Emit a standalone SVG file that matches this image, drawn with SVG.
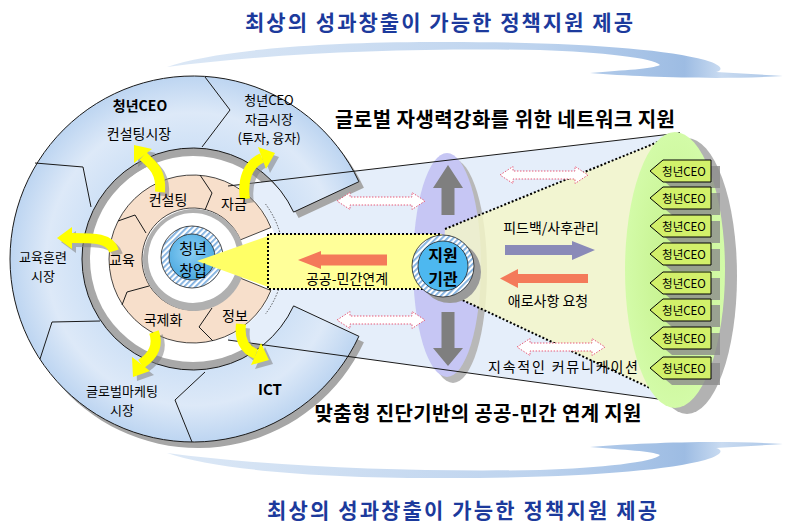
<svg xmlns="http://www.w3.org/2000/svg" width="785" height="528" viewBox="0 0 785 528">
<defs>
<style>
text{font-family:'Noto Sans CJK KR','Noto Sans',sans-serif;fill:#000}
.title{font-size:21px;font-weight:bold;fill:#1c3a9c}
.head{font-size:20px;font-weight:bold}
.l13{font-size:13px}
.l14{font-size:14px}
.b14{font-size:14px;font-weight:bold}
.mid{text-anchor:middle}
.line{fill:none;stroke:#1a1a1a;stroke-width:1}
.dot{fill:none;stroke:#000;stroke-width:2;stroke-dasharray:2 2}
.pink{fill:#fff;stroke:#e65a78;stroke-width:1;stroke-dasharray:1.5 1.5}
.ysh{fill:#808080;stroke:#808080;opacity:.55}
.yl{fill:#ffff00;stroke:#ffff00}
.ceo{fill:#d2f06a;stroke:#000;stroke-width:1}
.ceosh{fill:#8c8c8c;opacity:.8}
.ceot{font-size:11.5px;text-anchor:middle}
.sw{fill:url(#swg)}
</style>
<linearGradient id="swg" gradientUnits="userSpaceOnUse" x1="167" y1="0" x2="783" y2="0">
<stop offset="0" stop-color="#dce8f6"/>
<stop offset="0.6" stop-color="#bdd3ee"/>
<stop offset="0.84" stop-color="#9dbce3"/>
<stop offset="0.9" stop-color="#c9dbf1"/>
<stop offset="1" stop-color="#a8c4e6"/>
</linearGradient>
<radialGradient id="ringg" gradientUnits="userSpaceOnUse" cx="193" cy="259" r="183">
<stop offset="0.6" stop-color="#cfe1f6"/>
<stop offset="0.8" stop-color="#dde9f8"/>
<stop offset="1" stop-color="#bdd5f1"/>
</radialGradient>
<radialGradient id="coreg" cx="0.45" cy="0.4" r="0.6">
<stop offset="0" stop-color="#8ed0f5"/>
<stop offset="1" stop-color="#4aa8e0"/>
</radialGradient>
<radialGradient id="greeng" cx="0.5" cy="0.5" r="0.5">
<stop offset="0" stop-color="#c4f08a"/>
<stop offset="1" stop-color="#d3fba8"/>
</radialGradient>
<pattern id="hatch" width="4" height="4" patternUnits="userSpaceOnUse" patternTransform="rotate(45)">
<rect width="4" height="4" fill="#fff"/>
<rect width="1.8" height="4" fill="#7fb0e0"/>
</pattern>
<path id="dbl" d="M-44,0 L-31,-8.5 L-31,-4 L31,-4 L31,-8.5 L44,0 L31,8.5 L31,4 L-31,4 L-31,8.5 Z"/>
<g id="ya1"><path d="M160,192 C162,172 152,164 143,156" fill="none" stroke-width="10"/><polygon points="134,145 152,149 134,163" stroke="none"/></g>
<g id="ya2"><path d="M245,199 C242,180 248,164 262,158" fill="none" stroke-width="10"/><polygon points="275,153 266,169 258,147" stroke="none"/></g>
<g id="ya3"><path d="M114,251 C110,238 95,238 72,238" fill="none" stroke-width="10"/><polygon points="57,238 72,227 72,249" stroke="none"/></g>
<g id="ya4"><path d="M154,332 C159,346 153,356 141,364" fill="none" stroke-width="10"/><polygon points="133,377 150,371 132,357" stroke="none"/></g>
<g id="ya5"><path d="M241,324 C239,340 245,350 256,354" fill="none" stroke-width="10"/><polygon points="269,360 251,365 261,343" stroke="none"/></g>
</defs>

<rect width="785" height="528" fill="#fff"/>

<g id="swoosh-top"><path class="sw" d="M167,67 C210,52 300,43 420,42 C560,41 660,48 705,60 C722,65 724,70 716,72 L783,76 C720,80 640,77 590,73 C625,70 652,69 660,65 C655,58 600,52 540,50 C420,48 280,52 167,67 Z"/></g>
<g id="swoosh-bottom"><path class="sw" transform="matrix(1,0,0,-1,0,520)" d="M167,67 C210,52 300,43 420,42 C560,41 660,48 705,60 C722,65 724,70 716,72 L783,76 C720,80 640,77 590,73 C625,70 652,69 660,65 C655,58 600,52 540,50 C420,48 280,52 167,67 Z"/></g>

<g id="titles">
<text class="title mid" x="439" y="30" textLength="388" lengthAdjust="spacing">최상의 성과창출이 가능한 정책지원 제공</text>
<text class="title mid" x="462" y="518" textLength="390" lengthAdjust="spacing">최상의 성과창출이 가능한 정책지원 제공</text>
<text class="head mid" x="505" y="127" textLength="340" lengthAdjust="spacing">글로벌 자생력강화를 위한 네트워크 지원</text>
<text class="head mid" x="478" y="421" textLength="327" lengthAdjust="spacing">맞춤형 진단기반의 공공-민간 연계 지원</text>
</g>

<g id="white-ring">
<circle cx="195" cy="262" r="111" fill="#a8a8a8"/>
<circle cx="193" cy="259" r="103" fill="#fff"/>
</g>

<g id="network-cone">
<polygon points="228,186 680,133 680,402 228,340" fill="#e5eefa"/>
</g>

<g id="market-ring">
<path transform="translate(5,6)" fill="#a6a6a6" d="M358.9,181.7 A183,183 0 1 0 358.9,336.3 L293.6,305.9 A111,111 0 1 1 293.6,212.1 Z"/>
<path fill="url(#ringg)" stroke="#1a1a1a" stroke-width="1" d="M358.9,181.7 A183,183 0 1 0 358.9,336.3 L293.6,305.9 A111,111 0 1 1 293.6,212.1 Z"/>
<path class="line" d="M205,77 L230,110 L202,147 M35,163 L83,167 L91,207 M40,359 L52,322 L100,321 M192,442 L175,400 L205,372"/>
</g>

<g id="service-ring">
<circle cx="193" cy="259" r="85" fill="#fff"/>
<path fill="#f7dfcb" stroke="#1a1a1a" stroke-width="0.8" d="M270.9,227.5 A84,84 0 1 0 270.9,290.5 L240.3,278.1 A51,51 0 1 1 240.3,239.9 Z"/>
<path class="line" stroke-width="0.8" d="M200,175 L212,193 L205,210 M118,221 L135,215 L146,233 M122,305 L127,292 L149,286 M213,341 L199,327 L212,308"/>
<path d="M265.5,204 A92,92 0 0 1 265.5,314" fill="none" stroke="#333" stroke-width="0.8" stroke-dasharray="1.5 1.5"/>
</g>

<g id="core">
<circle cx="194" cy="260" r="51" fill="#b0b0b0"/>
<circle cx="193" cy="258" r="45" fill="#fff"/>
<circle cx="192" cy="257" r="31" fill="url(#hatch)" stroke="#222" stroke-width="0.8"/>
<circle cx="192" cy="257" r="23" fill="url(#coreg)" stroke="#222" stroke-width="0.8"/>
</g>

<g id="support-ellipse">
<ellipse cx="453" cy="271" rx="34" ry="112" fill="#b8b8b8"/>
<ellipse cx="447" cy="265" rx="34" ry="112" fill="#c6c6f4"/>
</g>

<g id="feedback-cone">
<polygon points="445,229 680,133 680,402 441,290" fill="#f4f6c8" opacity="0.82"/>
</g>

<g id="beam">
<rect x="268" y="234" width="174" height="55" fill="#ffff99"/>
<polygon points="197,261 268,236 268,287" fill="#ffff66"/>
<path class="dot" d="M440,234 H268 V289 H440"/>
</g>

<g id="connectors">
<path class="line" d="M228,186 L680,133 M228,340 L680,402"/>
<path class="dot" d="M445,229 L680,133 M441,290 L680,402"/>
<polygon fill="#f47a5a" points="298,260 321,251 321,254.5 387,254.5 387,265.5 321,265.5 321,269"/>
<polygon fill="#8a8ab8" points="595,250 572,241 572,245 505,245 505,255 572,255 572,260"/>
<polygon fill="#f47a5a" points="500,278.5 518,269 518,274 588,274 588,283 518,283 518,288"/>
<polygon fill="#7f7f7f" points="448,165 463,188 454.5,188 454.5,215 441.5,215 441.5,188 433,188"/>
<polygon fill="#7f7f7f" points="441.5,312 454.5,312 454.5,348 463,348 448,366 433,348 441.5,348"/>
<use href="#dbl" class="pink" transform="translate(381,201)"/>
<use href="#dbl" class="pink" transform="translate(381,320)"/>
<use href="#dbl" class="pink" transform="translate(544,175)"/>
<use href="#dbl" class="pink" transform="translate(561,347)"/>
<use href="#ya1" class="ysh" transform="translate(4,4)"/><use href="#ya1" class="yl"/>
<use href="#ya2" class="ysh" transform="translate(4,4)"/><use href="#ya2" class="yl"/>
<use href="#ya3" class="ysh" transform="translate(4,4)"/><use href="#ya3" class="yl"/>
<use href="#ya4" class="ysh" transform="translate(4,4)"/><use href="#ya4" class="yl"/>
<use href="#ya5" class="ysh" transform="translate(4,4)"/><use href="#ya5" class="yl"/>
</g>

<g id="support-center">
<circle cx="450" cy="272" r="31" fill="#9a9a9a"/>
<circle cx="443" cy="266" r="31" fill="url(#hatch)" stroke="#222" stroke-width="0.8"/>
<circle cx="443" cy="266" r="25" fill="#4db8f0" stroke="#222" stroke-width="0.8"/>
<text class="mid" x="443" y="261" style="font-size:16px;font-weight:bold">지원</text>
<text class="mid" x="443" y="285" style="font-size:16px;font-weight:bold">기관</text>
</g>

<g id="ceo-group">
<ellipse cx="687" cy="276" rx="50" ry="138" fill="#b2b2b2"/>
<ellipse cx="675" cy="270" rx="50" ry="138" fill="url(#greeng)"/>
</g>

<g id="ceo-1"><polygon class="ceosh" transform="translate(9,6)" points="650,171 663,160 711,160 711,182 663,182"/><polygon class="ceo" points="650,171 663,160 711,160 711,182 663,182"/><text class="ceot" x="684" y="176">청년CEO</text></g>
<g id="ceo-2"><polygon class="ceosh" transform="translate(9,6)" points="650,198 663,187 711,187 711,209 663,209"/><polygon class="ceo" points="650,198 663,187 711,187 711,209 663,209"/><text class="ceot" x="684" y="203">청년CEO</text></g>
<g id="ceo-3"><polygon class="ceosh" transform="translate(9,6)" points="650,226 663,215 711,215 711,237 663,237"/><polygon class="ceo" points="650,226 663,215 711,215 711,237 663,237"/><text class="ceot" x="684" y="231">청년CEO</text></g>
<g id="ceo-4"><polygon class="ceosh" transform="translate(9,6)" points="650,254 663,243 711,243 711,265 663,265"/><polygon class="ceo" points="650,254 663,243 711,243 711,265 663,265"/><text class="ceot" x="684" y="259">청년CEO</text></g>
<g id="ceo-5"><polygon class="ceosh" transform="translate(9,6)" points="650,283 663,272 711,272 711,294 663,294"/><polygon class="ceo" points="650,283 663,272 711,272 711,294 663,294"/><text class="ceot" x="684" y="288">청년CEO</text></g>
<g id="ceo-6"><polygon class="ceosh" transform="translate(9,6)" points="650,310 663,299 711,299 711,321 663,321"/><polygon class="ceo" points="650,310 663,299 711,299 711,321 663,321"/><text class="ceot" x="684" y="315">청년CEO</text></g>
<g id="ceo-7"><polygon class="ceosh" transform="translate(9,6)" points="650,338 663,327 711,327 711,349 663,349"/><polygon class="ceo" points="650,338 663,327 711,327 711,349 663,349"/><text class="ceot" x="684" y="343">청년CEO</text></g>
<g id="ceo-8"><polygon class="ceosh" transform="translate(9,6)" points="650,368 663,357 711,357 711,379 663,379"/><polygon class="ceo" points="650,368 663,357 711,357 711,379 663,379"/><text class="ceot" x="684" y="373">청년CEO</text></g>

<g id="labels">
<text class="b14 mid" x="140" y="111">청년CEO</text>
<text class="l14 mid" x="139" y="139">컨설팅시장</text>
<text class="l13 mid" x="269" y="105">청년CEO</text>
<text class="l13 mid" x="269" y="124">자금시장</text>
<text class="l13 mid" x="269" y="143">(투자, 융자)</text>
<text class="l13 mid" x="43" y="262">교육훈련</text>
<text class="l13 mid" x="43" y="281">시장</text>
<text class="l13 mid" x="122" y="396">글로벌마케팅</text>
<text class="l13 mid" x="122" y="415">시장</text>
<text class="mid" x="270" y="395" style="font-size:15px;font-weight:bold">ICT</text>
<text class="l14 mid" x="168" y="205">컨설팅</text>
<text class="l14 mid" x="234" y="209">자금</text>
<text class="l14 mid" x="122" y="265">교육</text>
<text class="l14 mid" x="163" y="325">국제화</text>
<text class="l14 mid" x="235" y="321">정보</text>
<text class="mid" x="193" y="254" style="font-size:15px">청년</text>
<text class="mid" x="193" y="276" style="font-size:15px">창업</text>
<text class="l14 mid" x="347" y="284">공공-민간연계</text>
<text class="l14 mid" x="551" y="233">피드백/사후관리</text>
<text class="l14 mid" x="548" y="306">애로사항 요청</text>
<text class="l14 mid" x="563" y="372" textLength="150" lengthAdjust="spacing">지속적인 커뮤니케이션</text>
</g>
</svg>
